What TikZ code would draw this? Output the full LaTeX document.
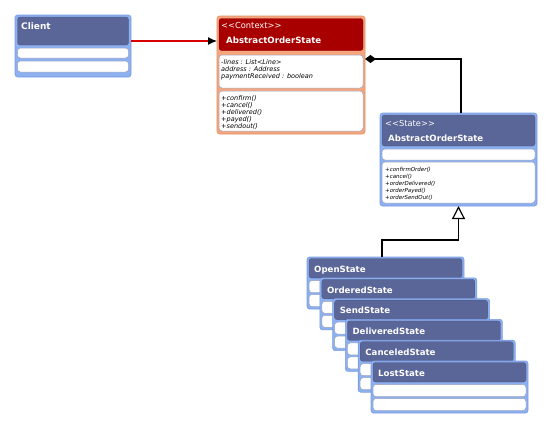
\documentclass[tikz,border=0pt]{standalone}
\usepackage{fontspec}
\setmainfont{DejaVu Sans}
\usetikzlibrary{arrows.meta,calc}
\definecolor{slate}{HTML}{5A6598}
\definecolor{lblue}{HTML}{8DB0F0}
\definecolor{lblueb}{HTML}{7A9CE0}
\definecolor{salmon}{HTML}{F6A67E}
\definecolor{salmonb}{HTML}{DE9068}
\definecolor{darkred}{HTML}{A80000}
\definecolor{compb}{HTML}{9AA3BE}
\newcommand\stl{<\kern0pt<}
\newcommand\stg{>\kern0pt>}
\tikzset{
  box/.style={anchor=north west, inner sep=0pt, outer sep=0pt, rounded corners=2.5pt, line width=0.6pt},
  bluebox/.style={box, fill=lblue, draw=lblueb},
  salbox/.style={box, fill=salmon, draw=salmonb},
  hdr/.style={box, fill=slate, draw=slate!85!black, line width=0.3pt},
  redhdr/.style={box, fill=darkred, draw=darkred!85!black, line width=0.3pt},
  comp/.style={box, fill=white, draw=compb, line width=0.5pt, rounded corners=3pt},
  boldlbl/.style={anchor=base west, inner sep=0pt, text=white, font=\fontsize{8.6}{10}\selectfont\bfseries},
  stlbl/.style={anchor=base west, inner sep=0pt, text=white, font=\fontsize{8.3}{10}\selectfont},
  ctxtxt/.style={anchor=base west, inner sep=0pt, text=black, font=\fontsize{6.5}{7}\selectfont\itshape},
  sttxt/.style={anchor=base west, inner sep=0pt, text=black, font=\fontsize{5.5}{7}\selectfont\itshape},
  conn/.style={line width=1.2pt, black},
}
\begin{document}
\begin{tikzpicture}[x=1pt,y=-1pt]
\useasboundingbox (0,0) rectangle (555,429);

% Client
\node[bluebox, minimum width=116, minimum height=62] (client) at (15,15) {};
\node[hdr, minimum width=111, minimum height=28] (client-h) at (17.5,17) {};
\node[comp, minimum width=111, minimum height=10] (client-a) at (17.5,48) {};
\node[comp, minimum width=111, minimum height=11] (client-m) at (17.5,61) {};
\node[boldlbl, font=\fontsize{9}{10}\selectfont\bfseries] (client-t) at (21,29) {Client};

% Context
\node[salbox, minimum width=148, minimum height=118] (ctx) at (217,16) {};
\node[redhdr, minimum width=144, minimum height=32] (ctx-h) at (219,18.5) {};
\node[comp, minimum width=144, minimum height=33] (ctx-a) at (219,55) {};
\node[comp, minimum width=144, minimum height=40] (ctx-m) at (219,91) {};
\node[stlbl] (ctx-s) at (221,28) {\stl Context\stg};
\node[boldlbl] (ctx-t) at (226,43.3) {AbstractOrderState};
\foreach \t [count=\k] in {-lines : List<Line>, address : Address, paymentReceived : boolean}
  \node[ctxtxt] (ctx-a\k) at (221,{64.3+7*(\k-1)}) {\t};
\foreach \t [count=\k] in {+confirm(), +cancel(), +delivered(), +payed(), +sendout()}
  \node[ctxtxt] (ctx-m\k) at (221,{100+7*(\k-1)}) {\t};

% State
\node[bluebox, minimum width=157, minimum height=93] (st) at (380,113) {};
\node[hdr, minimum width=153, minimum height=31] (st-h) at (382,115) {};
\node[comp, minimum width=153, minimum height=11] (st-a) at (382,149) {};
\node[comp, minimum width=153, minimum height=41] (st-m) at (382,162) {};
\node[stlbl] (st-s) at (385,126.7) {\stl State\stg};
\node[boldlbl] (st-t) at (388,141.7) {AbstractOrderState};
\foreach \t [count=\k] in {+confirmOrder(), +cancel(), +orderDelivered(), +orderPayed(), +orderSendOut()}
  \node[sttxt] (st-m\k) at (385,{171+7*(\k-1)}) {\t};

% Stacked concrete states
\foreach \i/\nm/\lab in {0/open/OpenState, 1/ordered/OrderedState, 2/send/SendState, 3/delivered/DeliveredState, 4/canceled/CanceledState, 5/lost/LostState}{
  \pgfmathsetmacro\bx{307+12.8*\i}
  \pgfmathsetmacro\by{257+20.8*\i}
  \node[bluebox, minimum width=157, minimum height=52] (\nm) at (\bx,\by) {};
  \node[hdr, minimum width=153, minimum height=19.5] (\nm-h) at ($(\nm.north west)+(2,1.5)$) {};
  \node[comp, minimum width=153, minimum height=12] (\nm-a) at ($(\nm.north west)+(2,23.5)$) {};
  \node[comp, minimum width=153, minimum height=12] (\nm-m) at ($(\nm.north west)+(2,37.5)$) {};
  \node[boldlbl] (\nm-t) at ($(\nm.north west)+(7,15.3)$) {\lab};
}

% Connectors
\draw[line width=1.2pt, red!85!black, -{Latex[color=black,length=9pt,width=8pt]}]
  ([yshift=-26pt]client.north east) -- ([yshift=-26pt]client.north east -| ctx.west);
\coordinate (agg) at ($(ctx.north east)+(0,43)$);
\draw[conn, {Diamond[length=11pt,width=8pt]}-] (agg) -| ([xshift=2.5pt]st.north);
\coordinate (bend) at (0,240);
\draw[conn, -{Triangle[open,fill=white,length=13pt,width=13pt,line width=1.2pt]}]
  ([xshift=-3.5pt]open.north) |- (bend -| st.south) -- (st.south);
\end{tikzpicture}
\end{document}
